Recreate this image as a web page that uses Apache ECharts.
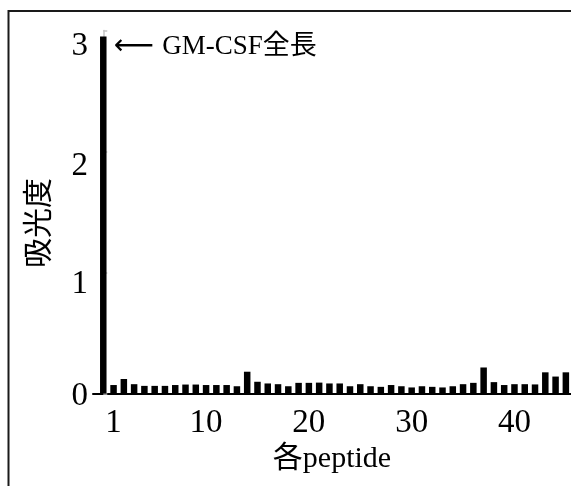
<!DOCTYPE html>
<html>
<head>
<meta charset="utf-8">
<script src="https://cdn.jsdelivr.net/npm/echarts@6/dist/echarts.min.js"></script>
<style>
  html, body { margin: 0; padding: 0; background: #fff; }
  #chart { width: 571px; height: 486px; }
</style>
</head>
<body>
<div id="chart"></div>
<script>
// Bar positions: 0 = GM-CSF full length, 1..45 = peptides
var peptideIndex = [0, 1, 2, 3, 4, 5, 6, 7, 8, 9, 10, 11, 12, 13, 14, 15, 16, 17, 18, 19, 20, 21, 22,
  23, 24, 25, 26, 27, 28, 29, 30, 31, 32, 33, 34, 35, 36, 37, 38, 39, 40, 41, 42, 43, 44, 45];
var absorbance = [2.95, 0.07, 0.12, 0.077, 0.063, 0.063, 0.063, 0.07, 0.074, 0.074, 0.07, 0.07, 0.07, 0.06,
  0.18, 0.097, 0.083, 0.077, 0.06, 0.088, 0.088, 0.09, 0.083, 0.083, 0.06, 0.077, 0.06, 0.055, 0.07,
  0.06, 0.05, 0.06, 0.055, 0.05, 0.06, 0.077, 0.088, 0.215, 0.094, 0.07, 0.077, 0.077, 0.075, 0.175,
  0.14, 0.175];
var xTickLabels = [1, 10, 20, 30, 40];
var yTickLabels = [0, 1, 2, 3];
var annotationArrow = '\u27F5';
var annotationText = 'GM-CSF全長';
var xAxisTitle = '各peptide';
var yAxisTitle = '吸光度';

var serif = '"Liberation Serif", "Times New Roman", "Noto Sans CJK JP", serif';
var cjk = '"Liberation Serif", "Noto Sans CJK JP", sans-serif';

var seriesData = peptideIndex.map(function (x, i) {
  var item = { value: [x, absorbance[i]] };
  if (i === 0) {
    item.label = {
      show: true,
      position: [14, 10],
      align: 'left',
      verticalAlign: 'middle',
      formatter: '{a|' + annotationArrow + '}{t|' + annotationText + '}',
      rich: {
        a: { fontFamily: '"DejaVu Sans", "Noto Sans CJK JP", sans-serif', fontSize: 28, color: '#000', padding: [0, 8, 0, 0] },
        t: { fontFamily: cjk, fontSize: 27, color: '#000' }
      }
    };
  }
  return item;
});

var chart = echarts.init(document.getElementById('chart'), null, { renderer: 'canvas' });
chart.setOption({
  animation: false,
  backgroundColor: '#fff',
  grid: { left: 93, right: 0, top: 30.5, bottom: 92.5, containLabel: false },
  xAxis: {
    type: 'value',
    min: -1,
    max: 45.5,
    interval: 1,
    splitLine: { show: false },
    axisTick: { show: false },
    axisLine: { show: true, onZero: false, lineStyle: { color: '#000', width: 2 } },
    axisLabel: {
      show: true,
      margin: 13,
      fontFamily: serif,
      fontSize: 33,
      color: '#000',
      showMaxLabel: false,
      showMinLabel: false,
      formatter: function (v) {
        return xTickLabels.indexOf(v) >= 0 ? String(v) : '';
      }
    },
    name: xAxisTitle,
    nameLocation: 'middle',
    nameGap: 46,
    nameTextStyle: { fontFamily: cjk, fontSize: 30, color: '#000' }
  },
  yAxis: {
    type: 'value',
    min: 0,
    max: 3,
    interval: 1,
    splitLine: { show: false },
    axisLine: { show: true, lineStyle: { color: '#c4c4c4', width: 1.5 } },
    axisTick: { show: true, inside: true, length: 4, lineStyle: { color: '#c4c4c4', width: 1.5 } },
    axisLabel: {
      margin: 5,
      fontFamily: serif,
      fontSize: 33,
      color: '#000',
      formatter: function (v) {
        var k = yTickLabels.indexOf(v);
        return '{r' + k + '|' + v + '}';
      },
      rich: {
        r0: { fontFamily: serif, fontSize: 33, color: '#000', padding: [6, 0, 0, 0] },
        r1: { fontFamily: serif, fontSize: 33, color: '#000', padding: [23, 0, 0, 0] },
        r2: { fontFamily: serif, fontSize: 33, color: '#000', padding: [29, 0, 0, 0] },
        r3: { fontFamily: serif, fontSize: 33, color: '#000', padding: [32, 0, 0, 0] }
      }
    },
    name: yAxisTitle,
    nameLocation: 'middle',
    nameRotate: 90,
    nameGap: 38,
    nameTextStyle: { fontFamily: cjk, fontSize: 30, color: '#000', padding: [0, 22, 0, 0] }
  },
  series: [{
    type: 'bar',
    data: seriesData,
    barWidth: 6.5,
    itemStyle: { color: '#000' },
    label: { show: false }
  }],
  graphic: [{
    type: 'rect',
    z: 100,
    silent: true,
    shape: { x: 8.5, y: 11, width: 620, height: 540 },
    style: { fill: 'none', stroke: '#1a1a1a', lineWidth: 2 }
  }]
});
</script>
</body>
</html>
